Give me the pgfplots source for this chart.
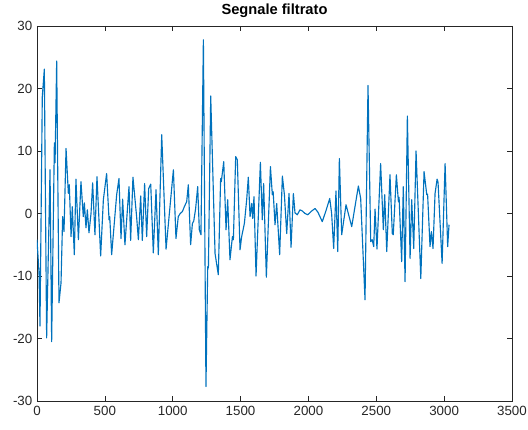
\documentclass[border=0pt]{standalone}
\usepackage{pgfplots}
\pgfplotsset{compat=1.18}
\usepackage{fontspec}
\setmainfont{Liberation Sans}
\definecolor{mlblue}{rgb}{0,0.447,0.741}
\definecolor{mlaxis}{rgb}{0.15,0.15,0.15}

\begin{document}
\begin{tikzpicture}
\begin{axis}[
  at={(0,0)}, anchor=south west,
  scale only axis,
  width=356.25pt, height=281.25pt,
  xmin=0, xmax=3500, ymin=-30, ymax=30,
  xtick={0,500,...,3500},
  ytick={-30,-20,...,30},
  tick align=inside,
  major tick length=4pt,
  tick style={mlaxis,line width=0.5pt},
  axis line style={mlaxis,line width=0.5pt},
  tick label style={font=\fontsize{10}{12}\selectfont,text=mlaxis},
  /pgf/number format/assume math mode=true,
  /pgf/number format/1000 sep={},
  title={\bfseries Segnale filtrato},
  title style={font=\fontsize{11}{13}\selectfont,yshift=-3pt},
]
\addplot[mlblue,line width=0.85pt,line join=round] coordinates {
(0,-4.2) (15,-9.5) (22,-18.0) (39,18.7) (54,23.1) (71,-19.9) (96,7.0)
(108,-20.5) (128,11.3) (133,8.1) (145,24.4) (162,-14.3) (177,-11.1)
(189,-0.5) (199,-2.9) (214,10.4) (231,3.2) (238,4.6) (251,-3.7) (260,1.1)
(275,-6.6) (287,5.5) (305,-4.2) (324,5.1) (341,-0.5) (349,1.7) (361,-2.3)
(371,0.6) (383,-3.1) (398,0) (410,4.9) (427,-3.4) (442,5.9) (469,-6.8)
(489,2.2) (513,6.4) (531,-1.0) (536,-0.5) (550,-6.6) (587,3.0) (604,5.6)
(619,-4.0) (631,2.3) (648,-5.0) (678,4.3) (690,-4.3) (707,5.8) (734,-0.5)
(747,-4.2) (764,2.8) (776,-4.3) (793,4.8) (808,-3.7) (823,4.0) (838,4.7)
(857,-6.3) (877,3.8) (894,-6.6) (919,12.6) (951,-5.7) (980,1.1) (1005,7.0)
(1024,-4.0) (1041,-0.5) (1055,0) (1071,0.3) (1086,1.1) (1103,1.9)
(1115,4.6) (1132,-5.0) (1145,-1.6) (1155,-1.2) (1169,0.8) (1184,4.3)
(1196,-2.6) (1208,-3.4) (1226,27.8) (1245,-27.7) (1258,-8.5) (1263,-8.7)
(1280,18.8) (1312,-6.4) (1336,-9.8) (1353,5.6) (1358,5.1) (1376,8.3)
(1393,-2.6) (1405,2.2) (1422,-7.4) (1440,-3.7) (1447,-4.2) (1464,9.1)
(1476,8.6) (1496,-5.8) (1508,-3.7) (1528,-1.6) (1545,2.2) (1557,5.8)
(1570,-0.5) (1582,1.6) (1589,-0.8) (1599,2.7) (1614,-10.0) (1646,8.2)
(1660,-1.0) (1670,4.8) (1690,-10.2) (1720,7.5) (1734,3.0) (1740,3.5)
(1754,-1.8) (1766,1.6) (1788,-6.6) (1808,6.0) (1823,3.0) (1840,-3.2)
(1857,3.2) (1872,-5.4) (1889,3.2) (1901,0.1) (1918,-0.2) (1938,0.6)
(1955,0.4) (1975,0) (1995,-0.2) (2024,0.4) (2049,0.8) (2070,0.2)
(2102,-1.3) (2130,0.5) (2157,2.4) (2171,0.0) (2186,-5.6) (2203,3.6)
(2216,-6.1) (2228,8.8) (2245,-3.4) (2277,1.4) (2319,-2.1) (2368,4.4)
(2385,2.4) (2417,-13.8) (2439,20.5) (2459,-4.5) (2470,-4.2) (2481,-5.3)
(2491,0.7) (2505,-5.7) (2532,8.0) (2552,-2.6) (2562,3.0) (2577,-6.1)
(2601,6.2) (2618,-3.2) (2625,-3.4) (2648,6.2) (2663,1.9) (2668,2.6)
(2687,-7.7) (2699,4.3) (2712,-10.9) (2729,15.6) (2749,-7.2) (2761,2.2)
(2776,-5.6) (2793,10.0) (2828,-10.4) (2852,6.7) (2872,3.0) (2878,3.1)
(2896,-5.3) (2906,-2.9) (2918,-5.6) (2933,3.2) (2948,5.5) (2955,5.0)
(2985,-8.0) (3007,8.0) (3026,-5.3) (3036,-1.8)
};
\end{axis}
\pgfresetboundingbox
\path (-27.75pt,-21pt) rectangle (368.25pt,300.75pt);
\end{tikzpicture}
\end{document}
